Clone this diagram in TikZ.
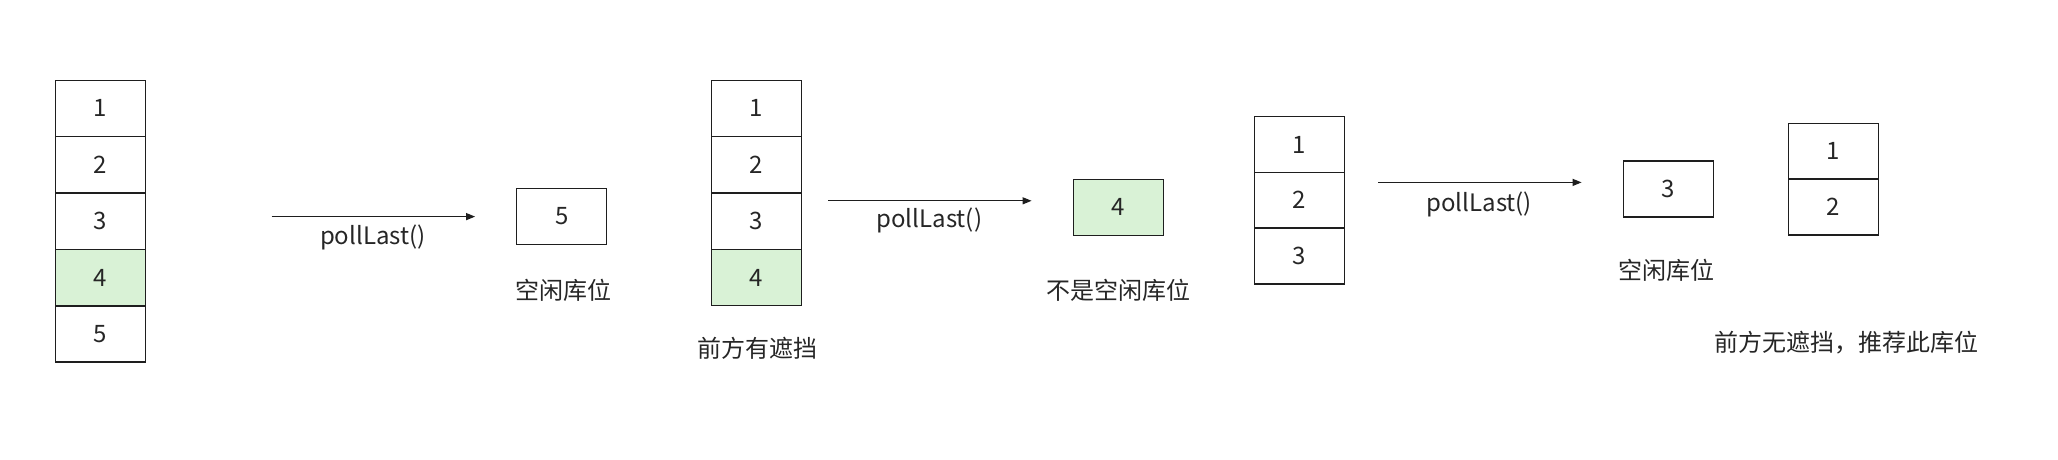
\documentclass[tikz,border=0pt]{standalone}
\usepackage{fontspec}
\setmainfont{Noto Sans CJK SC}
\usetikzlibrary{arrows.meta}
\definecolor{slotgreen}{RGB}{217,242,214}
\definecolor{edge}{RGB}{30,30,30}
\tikzset{
  slot/.style={draw=edge, line width=1.2pt, minimum width=90pt, minimum height=56pt, inner sep=0pt, font=\fontsize{24}{28}\selectfont, text=black!85},
  hot/.style={slot, fill=slotgreen},
  lbl/.style={font=\fontsize{24}{28}\selectfont, text=black!85, inner sep=0pt},
  flow/.style={-{Triangle[length=9pt,width=7pt]}, line width=1.2pt, draw=edge}
}
\begin{document}
\begin{tikzpicture}[x=1pt,y=-1pt]
\useasboundingbox (0,0) rectangle (2058,459);
% stack 1
\node[slot] (a1) at (100.4,108.3) {1};
\node[slot] (a2) at (100.4,164.7) {2};
\node[slot] (a3) at (100.4,221.1) {3};
\node[hot]  (a4) at (100.4,277.5) {4};
\node[slot] (a5) at (100.4,333.9) {5};
% arrow 1
\coordinate (p1s) at (271.7,216.6);
\coordinate (p1e) at (475.1,216.6);
\draw[flow] (p1s) -- (p1e);
\node[lbl] (t1) at (372.8,237) {pollLast()};
\node[slot] (b5) at (561.7,216.5) {5};
\node[lbl] (l1) at (563,290) {空闲库位};
% stack 2
\node[slot] (c1) at (756.6,108.3) {1};
\node[slot] (c2) at (756.6,164.7) {2};
\node[slot] (c3) at (756.6,221.1) {3};
\node[hot]  (c4) at (756.6,277.5) {4};
\node[lbl] (l2) at (757.3,348) {前方有遮挡};
% arrow 2
\coordinate (p2s) at (828.2,200.8);
\coordinate (p2e) at (1031.6,200.8);
\draw[flow] (p2s) -- (p2e);
\node[lbl] (t2) at (929.3,220) {pollLast()};
\node[hot] (b4) at (1118.3,207.3) {4};
\node[lbl] (l3) at (1118.3,290) {不是空闲库位};
% stack 3
\node[slot] (d1) at (1299.4,144.6) {1};
\node[slot] (d2) at (1299.4,200.2) {2};
\node[slot] (d3) at (1299.4,255.9) {3};
% arrow 3
\coordinate (p3s) at (1378.1,182.4);
\coordinate (p3e) at (1581.6,182.4);
\draw[flow] (p3s) -- (p3e);
\node[lbl] (t3) at (1479.2,204) {pollLast()};
\node[slot] (b3) at (1668.2,189) {3};
\node[lbl] (l4) at (1666.9,270.4) {空闲库位};
% stack 4
\node[slot] (e1) at (1833.5,151.3) {1};
\node[slot] (e2) at (1833.5,207) {2};
\node[lbl] (l5) at (1846.7,342.6) {前方无遮挡，推荐此库位};
\end{tikzpicture}
\end{document}
